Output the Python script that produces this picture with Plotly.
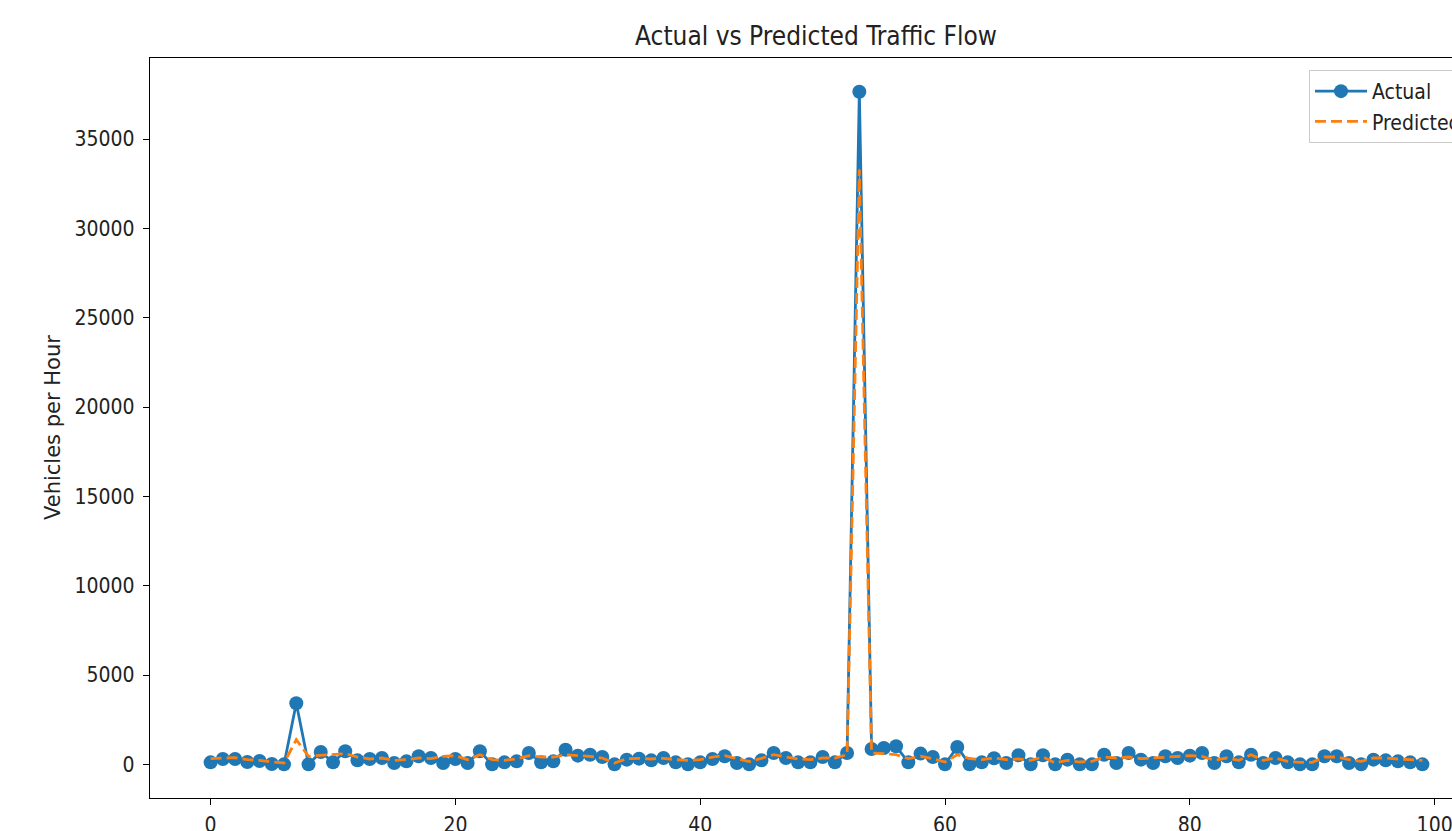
import plotly.graph_objects as go

# Hourly traffic flow: observed counts and model predictions (vehicles per hour)
hours = list(range(100))

actual = [
    112, 300, 300, 130, 187, 19, 0, 3420, 0, 690,
    112, 730, 224, 300, 355, 75, 168, 450, 355, 75,
    300, 75, 730, 0, 112, 168, 635, 112, 168, 820,
    486, 540, 410, 0, 262, 318, 224, 355, 112, 0,
    112, 300, 450, 75, 0, 224, 635, 355, 112, 112,
    410, 112, 635, 37650, 860, 916, 1010, 112, 600, 410,
    0, 970, 0, 112, 337, 75, 505, 0, 505, 0,
    262, 0, 0, 540, 75, 635, 262, 75, 450, 355,
    486, 635, 75, 450, 112, 540, 75, 355, 112, 0,
    0, 450, 450, 75, 0, 262, 224, 168, 112, 0,
]

predicted = [
    318, 355, 374, 262, 224, 130, 75, 1380, 450, 505,
    540, 600, 410, 300, 355, 224, 262, 355, 318, 450,
    486, 262, 540, 262, 224, 300, 486, 410, 410, 540,
    486, 450, 355, 75, 318, 337, 300, 337, 262, 224,
    262, 410, 486, 300, 150, 337, 540, 410, 300, 262,
    355, 355, 540, 33300, 635, 600, 540, 318, 450, 318,
    130, 540, 318, 262, 355, 262, 300, 224, 410, 75,
    224, 130, 168, 410, 355, 410, 318, 355, 410, 450,
    486, 450, 224, 355, 224, 540, 224, 355, 168, 112,
    112, 410, 410, 262, 168, 355, 355, 300, 262, 224,
]

BLUE = "#1f77b4"
ORANGE = "#ff7f0e"
TEXT_FONT = "DejaVu Sans Condensed, DejaVu Sans, sans-serif"

fig = go.Figure()

fig.add_trace(go.Scatter(
    x=hours, y=actual, name="Actual", mode="lines+markers",
    line=dict(color=BLUE, width=2.8),
    marker=dict(color=BLUE, size=14, line=dict(width=0)),
    legendgroup="a",
))
fig.add_trace(go.Scatter(
    x=hours, y=predicted, name="Predicted", mode="lines",
    line=dict(color=ORANGE, width=2.8, dash="11px,5px"),
    legendgroup="p",
))

axis_common = dict(
    showgrid=False, zeroline=False, showline=True, linecolor="#000000",
    linewidth=1.3, ticks="outside", ticklen=6, tickwidth=1.3,
    tickcolor="#000000", tickfont=dict(family=TEXT_FONT, size=21, color="#222222"),
)

fig.update_xaxes(
    range=[-4.95, 103.95], tickmode="array",
    tickvals=[0, 20, 40, 60, 80, 100], mirror=True,
    ticklabelstandoff=2, **axis_common,
)
fig.update_yaxes(
    range=[-1884, 39536], tickmode="array",
    tickvals=[0, 5000, 10000, 15000, 20000, 25000, 30000, 35000],
    ticktext=["0", "5000", "10000", "15000", "20000", "25000", "30000", "35000"],
    mirror=True, ticklabelstandoff=4, **axis_common,
)

W, H = 1560, 831
L, R, T, B = 150, W - 1483, 58, 33
PW, PH = W - L - R, H - T - B

fig.add_annotation(
    text="Vehicles per Hour", textangle=-90,
    xref="paper", yref="paper", x=(53 - L) / PW, y=0.5,
    xanchor="center", yanchor="middle", showarrow=False,
    font=dict(family="DejaVu Sans, sans-serif", size=21, color="#222222"),
)

fig.update_layout(
    width=W, height=H,
    margin=dict(l=L, r=R, t=T, b=B, autoexpand=False),
    paper_bgcolor="white", plot_bgcolor="white",
    title=dict(
        text="Actual vs Predicted Traffic Flow",
        x=(816 - L) / PW, xanchor="center", xref="paper",
        y=1 - 36 / H, yanchor="middle", yref="container",
        font=dict(family=TEXT_FONT, size=26, color="#222222"),
    ),
    showlegend=True,
    legend=dict(
        x=(1467 - L) / PW, xanchor="right",
        y=1 - (70 - T) / PH, yanchor="top",
        bgcolor="rgba(255,255,255,0.8)", bordercolor="#cccccc", borderwidth=1,
        font=dict(family=TEXT_FONT, size=21, color="#222222"),
        traceorder="grouped", tracegroupgap=0, itemwidth=52,
    ),
)

fig.write_html(
    "out.html",
    post_script=(
        "document.documentElement.style.overflow='hidden';"
        "document.body.style.overflow='hidden';"
        "document.body.style.margin='0';"
    ),
)
